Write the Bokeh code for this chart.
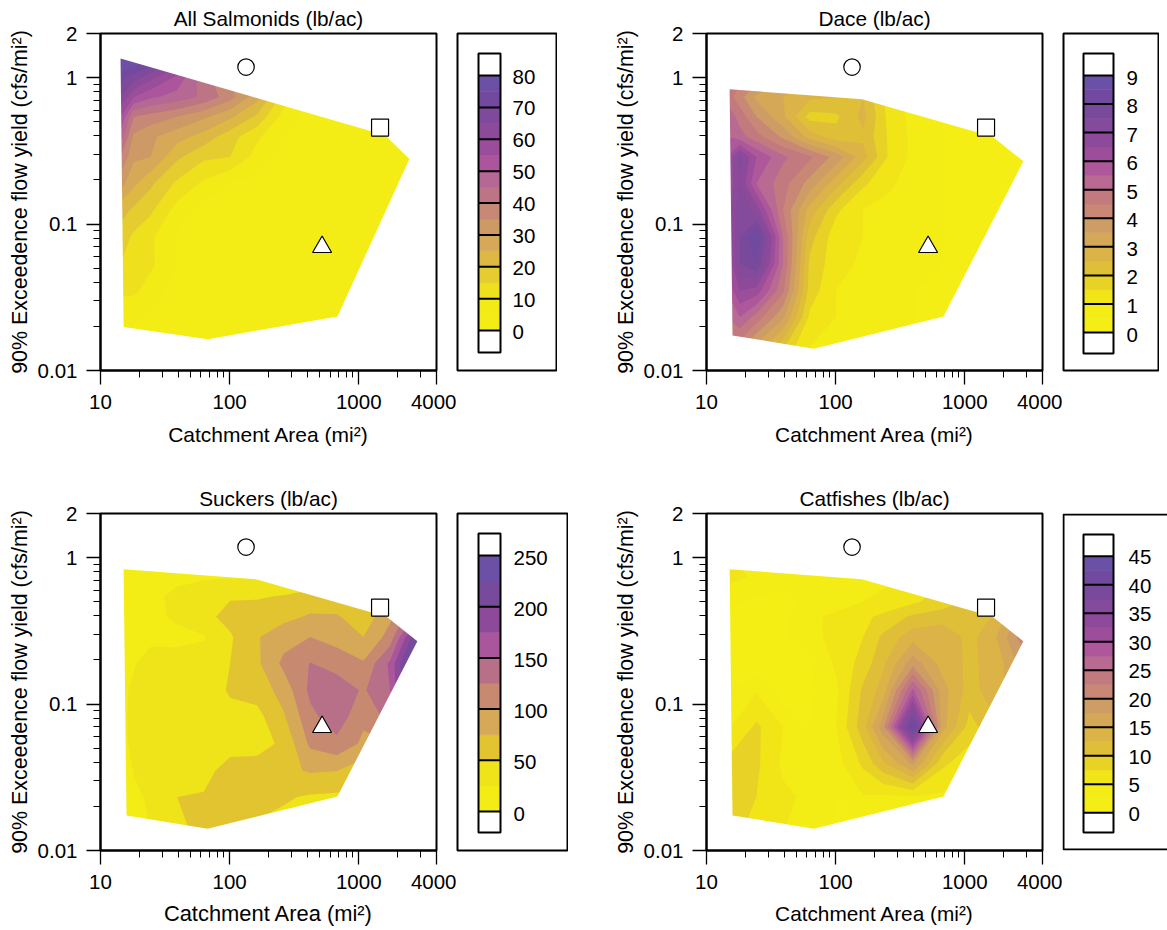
import numpy as np
import contourpy
from bokeh.embed import file_html
from bokeh.resources import INLINE
from bokeh.plotting import figure
from bokeh.layouts import row, column
from bokeh.models import Range1d, FixedTicker, Title
from bokeh.core.properties import value

# ---------- values ----------
x_major = [10, 100, 1000, 4000]
x_minor = [20, 30, 40, 50, 60, 70, 80, 90, 200, 300, 400, 500, 600, 700, 800, 900, 2000, 3000]
y_major = [0.01, 0.1, 1, 2]
y_minor = [0.02, 0.03, 0.04, 0.05, 0.06, 0.07, 0.08, 0.09, 0.2, 0.3, 0.4, 0.5, 0.6, 0.7, 0.8, 0.9]

circle_site = (134, 1.18)
square_site = (1462, 0.456)
triangle_site = (520, 0.0697)

# grid nodes (catchment area, flow yield)
area_nodes = [14.3, 18.1, 24.4, 39.2, 63, 101, 163, 262, 421, 676, 1087, 1746, 3162]
yield_nodes = [1.46, 1.01, 0.738, 0.54, 0.394, 0.287, 0.189, 0.124, 0.0815, 0.0536, 0.0352, 0.0232, 0.013]
catfish_area_nodes = [14.3, 24.4, 39.2, 63, 101, 163, 232, 396, 676, 1087, 1746, 3162]
catfish_yield_nodes = [1.46, 0.738, 0.50, 0.394, 0.287, 0.189, 0.124, 0.0697, 0.0392, 0.0232, 0.013]

salmonid_grid = [
    [85, 85, 80, 70, 55, 45, 35, 25, 15, 8, 3, 1, 0],
    [72, 68, 62, 54, 42, 35, 26, 16, 7, 2, 1, 0, 0],
    [65, 55, 51, 48, 44, 37, 27, 13, 5, 2, 1, 0, 0],
    [55, 40, 38, 35, 31, 26, 19, 8, 3, 1, 0, 0, 0],
    [48, 34, 31, 27, 23, 17, 11, 5, 2, 1, 0, 0, 0],
    [40, 31, 30, 21, 16, 15, 8, 3, 1, 1, 0, 0, 0],
    [32, 26, 21, 14, 9, 5, 3, 1, 1, 0, 0, 0, 0],
    [22, 19, 16, 8, 3, 1, 0, 0, 0, 0, 0, 0, 0],
    [18, 14, 11, 4, 1, 0, 0, 0, 0, 0, 0, 0, 0],
    [15, 13, 11, 5, 1, 0, 0, 0, 0, 0, 0, 0, 0],
    [11, 11, 8, 3, 1, 0, 0, 0, 0, 0, 0, 0, 0],
    [7, 6, 4, 2, 0, 0, 0, 0, 0, 0, 0, 0, 0],
    [3, 2, 1, 0, 0, 0, 0, 0, 0, 0, 0, 0, 0],
]
dace_grid = [
    [5, 5, 4.5, 4, 3.5, 3, 3, 2, 1, .6, .4, .3, .2],
    [5, 4.7, 4.3, 3.7, 3.2, 3, 2.9, 1.5, .8, .5, .4, .3, .2],
    [4.8, 4.2, 3.4, 3, 2.6, 2.5, 2.5, 1.2, .8, .5, .4, .3, .2],
    [5.4, 4.8, 4, 3.1, 1.8, 1.9, 2.65, 1.3, .8, .5, .4, .3, .2],
    [5.5, 5.2, 4.7, 3.9, 2.8, 2.2, 2.4, 1.4, .8, .5, .4, .3, .2],
    [6, 7.2, 6, 5.1, 4.6, 3.8, 2.7, 1.4, .8, .5, .4, .3, .2],
    [6, 7, 5.5, 4.7, 3.8, 2.7, 1.6, 1.1, .7, .5, .4, .3, .2],
    [6, 7.5, 6.8, 4.5, 2.8, 1.6, 1, .8, .6, .5, .4, .3, .2],
    [6, 7.5, 8.6, 5, 2.2, 1.2, 1, .8, .6, .5, .4, .3, .2],
    [5.8, 7.5, 8, 5, 1.9, 1.2, .9, .7, .6, .5, .4, .3, .2],
    [5.5, 6.5, 6.3, 4.6, 1.8, 1, .8, .6, .5, .4, .3, .3, .2],
    [5, 5.5, 4.8, 3.6, 1.4, 1, .8, .6, .5, .4, .3, .3, .2],
    [4, 3.9, 3, 1.8, .9, .8, .7, .5, .4, .4, .3, .2, .2],
]
sucker_grid = [
    [5, 5, 5, 6, 8, 10, 12, 15, 20, 25, 30, 40, 60],
    [5, 6, 8, 10, 12, 15, 18, 20, 25, 30, 35, 50, 70],
    [10, 12, 14, 20, 22, 23, 24, 26, 30, 35, 40, 60, 80],
    [10, 12, 20, 30, 40, 48, 48, 52, 60, 55, 55, 80, 120],
    [12, 15, 20, 28, 43, 58, 62, 68, 78, 78, 60, 95, 170],
    [15, 20, 22, 20, 23, 47, 73, 90, 100, 90, 75, 110, 250],
    [18, 24, 30, 33, 37, 50, 70, 106, 126, 115, 103, 155, 300],
    [22, 27, 30, 33, 40, 52, 60, 85, 131, 140, 122, 150, 300],
    [20, 30, 35, 38, 42, 45, 42, 72, 118, 140, 105, 135, 200],
    [18, 30, 35, 36, 40, 40, 40, 55, 105, 118, 95, 100, 100],
    [15, 26, 30, 49, 42, 60, 62, 68, 78, 76, 60, 50, 50],
    [15, 22, 27, 50, 52, 58, 58, 53, 47, 45, 45, 45, 45],
    [12, 18, 25, 48, 52, 52, 45, 40, 38, 38, 38, 38, 38],
]
catfish_grid = [
    [5, 3, 2, 2, 2, 2, 3, 4, 6, 8, 10, 15],
    [6, 4.5, 3, 3, 3, 3, 4, 5, 7, 9, 10, 15],
    [3, 2, 2, 3, 4, 5, 6, 7, 9, 10.5, 12, 18],
    [2, 2, 2, 4.5, 5.5, 7, 8, 10.5, 11, 10.5, 13, 20],
    [1.5, 1.5, 2, 4.5, 5.5, 7.5, 10.5, 14, 15, 11.5, 15, 23],
    [1, 1, 1, 2, 5.5, 8.5, 12, 19, 14, 12, 13.5, 20],
    [2, 4.8, 1, 2, 4.5, 10.5, 13.5, 28, 16, 11.5, 14, 18],
    [4.5, 8, 5, 2.5, 5, 11.5, 19, 43, 16, 9, 12, 14],
    [8, 8, 4.5, 2.5, 4, 8, 12, 18, 8, 6, 5, 5],
    [8, 7.5, 5.5, 4.5, 2.5, 4.8, 4.5, 4.8, 4.5, 3, 2, 2],
    [8, 7, 5, 4.5, 2, 2, 2, 2, 2, 2, 2, 2],
]

# outline of the sampled region
salmonid_hull_x = [14.3, 1600, 2466, 684, 67.6, 15.1]
salmonid_hull_y = [1.35, 0.404, 0.278, 0.0234, 0.01637, 0.0198]
common_hull_x = [15.1, 160, 1644, 2844, 684, 67.6, 15.9]
common_hull_y = [0.833, 0.711, 0.394, 0.2685, 0.0234, 0.01406, 0.01737]

# band colours, low to high
salmonid_colors = ["#F3ED15", "#F2EB16", "#EFE01E", "#E5CD30", "#DDB843", "#D5A957", "#CD9A66", "#C78876",
                   "#BD7585", "#B66895", "#AB559C", "#9A4D9B", "#8C4A9A", "#7E4A9B", "#7349A0", "#6B50A5"]
eighteen_colors = ["#F4EE14", "#F3EC15", "#F1E518", "#E9D226", "#E0BF38", "#DBB347", "#D4A857", "#CE9C65",
                   "#C88875", "#C27A7F", "#B86A92", "#AE579B", "#9C4E9A", "#8E4A9A", "#844A9B", "#794A9C",
                   "#714AA0", "#6A50A6"]
sucker_colors = ["#F3ED15", "#EFE31A", "#E2C431", "#D5A957", "#C78A70", "#B87088", "#A9569C", "#8D4A9B",
                 "#784A9C", "#6B50A5"]

salmonid_levels = [5 * i for i in range(17)]
dace_levels = [0.5 * i for i in range(19)]
sucker_levels = [25 * i for i in range(11)]
catfish_levels = [2.5 * i for i in range(19)]

salmonid_labels = [0, 10, 20, 30, 40, 50, 60, 70, 80]
dace_labels = [0, 1, 2, 3, 4, 5, 6, 7, 8, 9]
sucker_labels = [0, 50, 100, 150, 200, 250]
catfish_labels = [0, 5, 10, 15, 20, 25, 30, 35, 40, 45]

FONT = "Liberation Sans"
FS = "20.5px"


def main_panel(title, grid, ax, ay, levels, colors, hx, hy, width, height, left, top, bottom,
               label_size="21.0px", title_dx=0, xlabel_standoff=11):
    p = figure(width=width, height=height, x_axis_type="log", y_axis_type="log",
               x_range=Range1d(10, 4000), y_range=Range1d(0.01, 2),
               min_border_left=left, min_border_right=20, min_border_top=top, min_border_bottom=bottom,
               toolbar_location=None, output_backend="svg")
    p.grid.visible = False
    # a thin blank title keeps the real one clear of the frame
    p.add_layout(Title(text=" ", text_font_size="2px", align="center", standoff=0), "above")
    p.add_layout(Title(text=title, text_font=FONT, text_font_size="20.8px", text_font_style="normal",
                       text_color="black", align="center", offset=title_dx, standoff=0), "above")
    p.outline_line_color = "black"
    p.outline_line_width = 2
    p.outline_line_alpha = 1
    p.xaxis.ticker = FixedTicker(ticks=x_major, minor_ticks=x_minor)
    p.yaxis.ticker = FixedTicker(ticks=y_major, minor_ticks=y_minor)
    p.xaxis.major_label_overrides = {t: str(t) for t in x_major}
    p.yaxis.major_label_overrides = {t: str(t) for t in y_major}
    for a in (p.xaxis[0], p.yaxis[0]):
        a.axis_line_width = 2
        a.major_tick_in = 0
        a.major_tick_out = 14
        a.minor_tick_in = 0
        a.minor_tick_out = 7
        a.major_tick_line_width = 1.3
        a.minor_tick_line_width = 1
        a.major_label_text_font = FONT
        a.major_label_text_font_size = FS
        a.major_label_text_color = "black"
        a.axis_label_text_font = FONT
        a.axis_label_text_font_style = "normal"
        a.axis_label_text_color = "black"
    p.xaxis[0].axis_label = "Catchment Area (mi²)"
    p.xaxis[0].axis_label_text_font_size = label_size
    p.xaxis[0].major_label_standoff = 10
    p.xaxis[0].axis_label_standoff = xlabel_standoff
    p.yaxis[0].axis_label = "90% Exceedence flow yield (cfs/mi²)"
    p.yaxis[0].axis_label_text_font_size = "21.4px"
    p.yaxis[0].major_label_standoff = 9
    p.yaxis[0].axis_label_standoff = 3

    # filled bands, each painted over the one below it
    lx = np.log10(np.array(ax, dtype=float))
    ly = np.log10(np.array(ay, dtype=float))[::-1]
    z = np.array(grid, dtype=float)[::-1]
    gen = contourpy.contour_generator(x=lx, y=ly, z=z, fill_type="OuterOffset", name="serial")
    for k, col in enumerate(colors):
        low = levels[k] if k > 0 else -1.0
        pts_list, off_list = gen.filled(low, 1e9)
        if not pts_list:
            continue
        xs, ys = [], []
        for pts, offs in zip(pts_list, off_list):
            rx, ry = [], []
            for a, b in zip(offs[:-1], offs[1:]):
                rx.append(list(10 ** pts[a:b, 0]))
                ry.append(list(10 ** pts[a:b, 1]))
            xs.append(rx)
            ys.append(ry)
        p.multi_polygons(xs=[xs], ys=[ys], fill_color=col, line_color=None)

    # everything outside the sampled outline stays white
    rx = [12, 3900, 3900, 12]
    ry = [0.0115, 0.0115, 1.7, 1.7]
    p.multi_polygons(xs=[[[rx, list(hx)]]], ys=[[[ry, list(hy)]]], fill_color="white", line_color=None)

    p.scatter([circle_site[0]], [circle_site[1]], marker="circle", size=16.5, fill_color="white",
              line_color="black", line_width=1.2)
    p.scatter([square_site[0]], [square_site[1]], marker="square", size=17, fill_color="white",
              line_color="black", line_width=1.2)
    p.scatter([triangle_site[0]], [triangle_site[1]], marker="triangle", size=19, fill_color="white",
              line_color="black", line_width=1.2)
    return p


def bar_panel(levels, colors, labels, frame_w, strip, text_x, px_low, px_high, px_end_low, px_end_high,
              frame_top, label_dy, width, height, top, bottom, open_right=False, right=1):
    # px_* are page positions of the strip; mapped into value units for the y range
    inset = 1 if open_right else 0
    vis_top, vis_bottom = frame_top, frame_top + 337
    f_top = vis_top - inset
    f_bottom = vis_bottom + inset
    vmax = levels[-1]
    scale = (px_low - px_high) / vmax
    y0 = -(f_bottom - px_low) / scale
    y1 = vmax + (px_high - f_top) / scale
    end_low = -(px_end_low - px_low) / scale
    end_high = vmax + (px_high - px_end_high) / scale
    p = figure(width=width, height=height, x_range=Range1d(-inset, frame_w), y_range=Range1d(y0, y1),
               min_border_left=1 - inset, min_border_right=right, min_border_top=top - inset,
               min_border_bottom=bottom - inset, toolbar_location=None, output_backend="svg")
    p.axis.visible = False
    p.grid.visible = False
    if open_right:
        p.outline_line_color = None
        y_hi = vmax + (px_high - vis_top) / scale
        y_lo = -(vis_bottom - px_low) / scale
        p.line([frame_w, 0, 0, frame_w], [y_hi, y_hi, y_lo, y_lo], line_color="black", line_width=2)
    else:
        p.outline_line_color = "black"
        p.outline_line_width = 2
        p.outline_line_alpha = 1
    l, r = strip
    p.quad(left=l, right=r, bottom=levels[:-1], top=levels[1:], fill_color=colors, line_color=colors, line_width=0.6)
    p.quad(left=l, right=r, bottom=[end_low, vmax], top=[0, end_high], fill_color="white", line_color=None)
    p.segment(x0=[l] * len(labels), x1=[r] * len(labels), y0=labels, y1=labels, line_color="black", line_width=2)
    p.quad(left=l, right=r, bottom=end_low, top=end_high, fill_color=None, line_color="black", line_width=2)
    p.text(x=[text_x] * len(labels), y=labels, text=[str(v) for v in labels], text_font=value(FONT),
           text_font_size=FS, text_baseline="middle", text_align="left", text_color="black", y_offset=label_dy)
    return p


H1, H2 = 480, 450
T1, T2 = 33, 33
B1, B2 = 110, 80

p1 = main_panel("All Salmonids (lb/ac)", salmonid_grid, area_nodes, yield_nodes, salmonid_levels, salmonid_colors,
                salmonid_hull_x, salmonid_hull_y, 456, H1, 100, T1, B1)
c1 = bar_panel(salmonid_levels, salmonid_colors, salmonid_labels, 99, (21, 43), 55, 330, 75, 352, 53,
               33, 1, 101, H1, T1, B1)
p2 = main_panel("Dace (lb/ac)", dace_grid, area_nodes, yield_nodes, dace_levels, eighteen_colors,
                common_hull_x, common_hull_y, 505, H1, 149, T1, B1, label_size="20.8px", title_dx=-6)
c2 = bar_panel(dace_levels, eighteen_colors, dace_labels, 95, (20, 50), 63, 332, 75, 353, 53,
               33, 2, 97, H1, T1, B1)
p3 = main_panel("Suckers (lb/ac)", sucker_grid, area_nodes, yield_nodes, sucker_levels, sucker_colors,
                common_hull_x, common_hull_y, 456, H2, 100, T2, B2, label_size="21.9px", xlabel_standoff=9)
c3 = bar_panel(sucker_levels, sucker_colors, sucker_labels, 110, (21, 43), 56, 811, 555, 832, 533,
               513, 2, 112, H2, T2, B2)
p4 = main_panel("Catfishes (lb/ac)", catfish_grid, catfish_area_nodes, catfish_yield_nodes, catfish_levels,
                eighteen_colors, common_hull_x, common_hull_y, 494, H2, 138, T2, B2, label_size="20.8px",
                title_dx=-3, xlabel_standoff=10)
c4 = bar_panel(catfish_levels, eighteen_colors, catfish_labels, 104, (20, 50), 65, 813, 555, 833, 533,
               513, 1, 105, H2, T2, B2, open_right=True, right=0)

layout = column(row(p1, c1, p2, c2), row(p3, c3, p4, c4))
open("out.html", "w").write(file_html(layout, INLINE))
